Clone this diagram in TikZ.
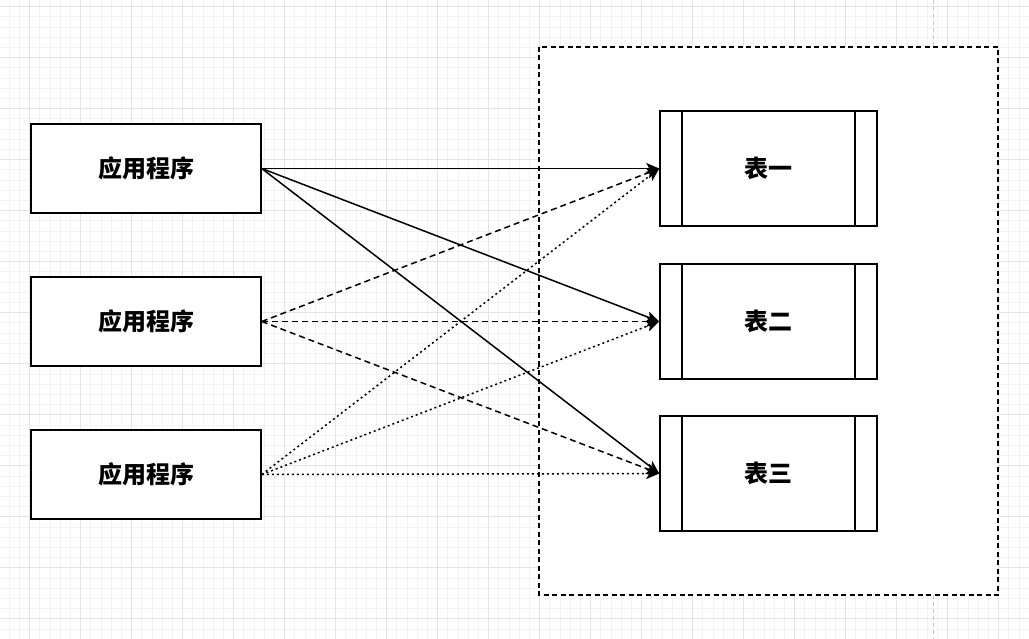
\documentclass[tikz,border=0pt]{standalone}
\usepackage{fontspec}
\newfontfamily\cjk{Noto Sans CJK SC}
\usetikzlibrary{arrows.meta}
\begin{document}
\begin{tikzpicture}[x=1pt, y=-1pt,
  appbox/.style={draw, line width=1.5pt, fill=white, minimum width=230pt, minimum height=89pt, font=\cjk\bfseries\fontsize{24}{28}\selectfont},
  tablebox/.style={draw, line width=1.5pt, fill=white, minimum width=217pt, minimum height=115pt, font=\cjk\bfseries\fontsize{24}{28}\selectfont,
    path picture={\draw[line width=1.5pt] ([xshift=22pt]path picture bounding box.north west) -- ([xshift=22pt]path picture bounding box.south west)
      ([xshift=-22pt]path picture bounding box.north east) -- ([xshift=-22pt]path picture bounding box.south east);}},
  link/.style={line width=1.5pt, -{Stealth[length=13pt, width=11pt, inset=3pt]}},
  linkdash/.style={link, dash pattern=on 6pt off 4pt},
  linkdot/.style={link, dash pattern=on 2pt off 3pt}]
\definecolor{gridminor}{HTML}{F3F3F3}
\definecolor{gridmajor}{HTML}{E4E4E4}
\definecolor{pageline}{HTML}{C8C8C8}
\useasboundingbox (0,0) rectangle (1029,639);
\fill[white] (0,0) rectangle (1029,639);
\begin{scope}[y=1pt]
\draw[gridminor, line width=0.8pt, shift={(9.1,-6.7)}, step=10.2] (-10.2,-650) grid (1030,10.2);
\draw[gridmajor, line width=0.8pt, shift={(29.5,-6.7)}, step=51] (-51,-663) grid (1071,51);
\end{scope}
\draw[pageline, line width=1pt, dash pattern=on 4pt off 3pt] (933,0) -- (933,639);
\draw[fill=white, line width=1.5pt, dash pattern=on 5pt off 3.5pt] (539,47) rectangle (998,595);
\node[appbox] (app1) at (146,168.5) {应用程序};
\node[appbox] (app2) at (146,321.5) {应用程序};
\node[appbox] (app3) at (146,474.5) {应用程序};
\node[tablebox] (tbl1) at (768.5,168.5) {表一};
\node[tablebox] (tbl2) at (768.5,321.5) {表二};
\node[tablebox] (tbl3) at (768.5,473.5) {表三};
\draw[link] (app1.east) -- (tbl1.west);
\draw[link] (app1.east) -- (tbl2.west);
\draw[link] (app1.east) -- (tbl3.west);
\draw[linkdash] (app2.east) -- (tbl1.west);
\draw[linkdash] (app2.east) -- (tbl2.west);
\draw[linkdash] (app2.east) -- (tbl3.west);
\draw[linkdot] (app3.east) -- (tbl1.west);
\draw[linkdot] (app3.east) -- (tbl2.west);
\draw[linkdot] (app3.east) -- (tbl3.west);
\end{tikzpicture}
\end{document}
